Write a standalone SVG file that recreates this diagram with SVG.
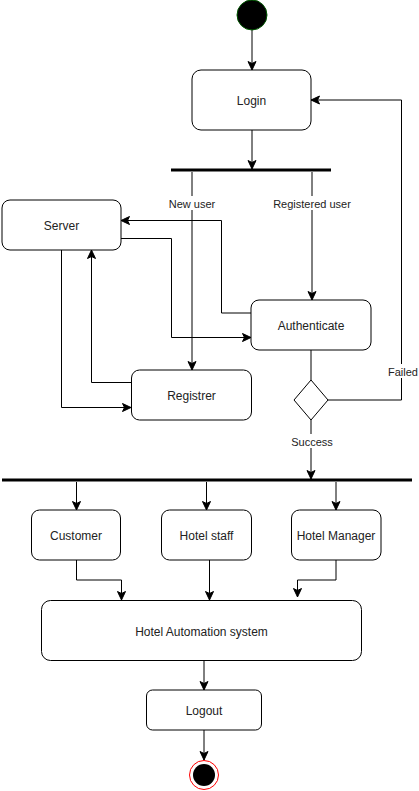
<svg xmlns="http://www.w3.org/2000/svg" width="419" height="791" viewBox="0 0 419 791">
<defs>
<marker id="arr" markerUnits="userSpaceOnUse" markerWidth="10" markerHeight="10" viewBox="0 0 10 10" refX="9" refY="5" orient="auto">
<path d="M0.5,1 L9,5 L0.5,9 L2.5,5 Z" fill="#000" stroke="#000" stroke-width="1"/>
</marker>
</defs>
<style>
.node{fill:#fff;stroke:#000;stroke-width:1}
.t{font-family:"Liberation Sans",Arial,sans-serif;font-size:12px;fill:#222;text-anchor:middle;dominant-baseline:central}
.lbl{font-family:"Liberation Sans",Arial,sans-serif;font-size:11px;fill:#222;text-anchor:middle;dominant-baseline:central}
.e{fill:none;stroke:#000;stroke-width:1}
.ea{fill:none;stroke:#000;stroke-width:1;marker-end:url(#arr)}
.bar{fill:#000}
</style>
<g id="connectors">
<path class="ea" d="M252,30 L252,70"/>
<path class="ea" d="M252,130 L252,169"/>
<path class="ea" d="M192,172 L192,370"/>
<path class="ea" d="M312,172 L312,300"/>
<path class="ea" d="M251,313 L221.5,313 L221.5,220.5 L121,220.5"/>
<path class="ea" d="M121,238.5 L171.5,238.5 L171.5,337.5 L251,337.5"/>
<path class="ea" d="M61.5,250 L61.5,407.5 L131,407.5"/>
<path class="ea" d="M131,382.5 L91.5,382.5 L91.5,250"/>
<path class="e" d="M311,350 L311,380"/>
<path class="ea" d="M328,400 L401.5,400 L401.5,100 L311,100"/>
<path class="ea" d="M311,420 L311,479"/>
<path class="ea" d="M76.5,482 L76.5,510"/>
<path class="ea" d="M206.5,482 L206.5,510"/>
<path class="ea" d="M336,482 L336,510"/>
<path class="ea" d="M76.5,560 L76.5,580 L121.5,580 L121.5,600"/>
<path class="ea" d="M209.5,560 L209.5,600"/>
<path class="ea" d="M336,560 L336,580 L297.5,580 L297.5,597"/>
<path class="ea" d="M204,660 L204,690"/>
<path class="ea" d="M204,730 L204,760"/>
<rect x="168" y="196" width="48" height="14" fill="#fff"/>
<text class="lbl" x="192" y="203.5">New user</text>
<rect x="272" y="196" width="80" height="14" fill="#fff"/>
<text class="lbl" x="312" y="203.5">Registered user</text>
<rect x="388" y="364" width="31" height="14" fill="#fff"/>
<text class="lbl" x="403" y="371.5">Failed</text>
<rect x="290" y="434" width="42" height="14" fill="#fff"/>
<text class="lbl" x="312" y="441.5">Success</text>
</g>
<g id="start"><circle cx="252" cy="15" r="15" fill="#000" stroke="#005700" stroke-width="1"/></g>
<g id="login"><rect class="node" x="192" y="70" width="119" height="60" rx="9"/><text class="t" x="251.5" y="101">Login</text></g>
<g id="fork1"><rect class="bar" x="171" y="168.5" width="160" height="3"/></g>
<g id="server"><rect class="node" x="2" y="200" width="119" height="50" rx="8"/><text class="t" x="61.5" y="226">Server</text></g>
<g id="authenticate"><rect class="node" x="251" y="300" width="120" height="50" rx="8"/><text class="t" x="311" y="326">Authenticate</text></g>
<g id="registrer"><rect class="node" x="131.5" y="370" width="120" height="50" rx="8"/><text class="t" x="191.5" y="396">Registrer</text></g>
<g id="decision"><path class="node" d="M311,380 L328,400 L311,420 L294,400 Z"/></g>
<g id="fork2"><rect class="bar" x="2" y="478.5" width="410" height="3"/></g>
<g id="customer"><rect class="node" x="31.5" y="510" width="89" height="50" rx="8"/><text class="t" x="76" y="536">Customer</text></g>
<g id="hotelstaff"><rect class="node" x="161.5" y="510" width="90" height="50" rx="8"/><text class="t" x="206.5" y="536">Hotel staff</text></g>
<g id="hotelmanager"><rect class="node" x="291.5" y="510" width="89.5" height="50" rx="8"/><text class="t" x="336" y="536">Hotel Manager</text></g>
<g id="has"><rect class="node" x="41.5" y="600.5" width="320" height="60" rx="9"/><text class="t" x="201.5" y="631.5">Hotel Automation system</text></g>
<g id="logout"><rect class="node" x="146.5" y="690" width="115" height="40" rx="6"/><text class="t" x="204" y="711">Logout</text></g>
<g id="end"><circle cx="204" cy="775" r="14.5" fill="#fff" stroke="#ff0000" stroke-width="1"/><circle cx="204" cy="775" r="11" fill="#000"/></g>
</svg>
